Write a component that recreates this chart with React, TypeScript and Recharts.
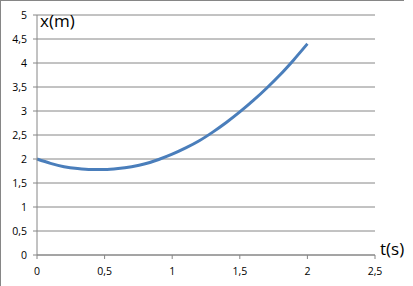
import { CartesianGrid, Line, LineChart, XAxis, YAxis } from 'recharts'

// position x (m) read at each time t (s)
const times = [0, 0.1, 0.2, 0.3, 0.4, 0.5, 0.6, 0.7, 0.8, 0.9, 1, 1.1, 1.2, 1.3, 1.4, 1.5, 1.6, 1.7, 1.8, 1.9, 2]
const positions = [2, 1.91, 1.84, 1.8, 1.78, 1.78, 1.8, 1.84, 1.9, 1.99, 2.1, 2.23, 2.38, 2.56, 2.76, 2.98, 3.22, 3.48, 3.76, 4.07, 4.4]
const xTicks = [0, 0.5, 1, 1.5, 2, 2.5]
const yTicks = [0, 0.5, 1, 1.5, 2, 2.5, 3, 3.5, 4, 4.5, 5]

const data = times.map((t, i) => ({ t, x: positions[i] }))

const gray = '#868686'
const fmt = (v: number) => String(v).replace('.', ',')
const tickStyle = { fill: '#000', fontSize: 10.5, fontFamily: 'Open Sans' }

export default function App() {
  return (
    <div style={{ position: 'absolute', left: 0, top: 0, width: 413, height: 286, background: '#fff', overflow: 'hidden' }}>
      <div style={{ position: 'absolute', left: 0, top: 0, width: 404, height: 1, background: gray }} />
      <div style={{ position: 'absolute', left: 0, top: 0, width: 1, height: 286, background: gray }} />
      <LineChart width={413} height={286} data={data} margin={{ top: 15, right: 38, bottom: 0, left: 0 }}>
        <CartesianGrid horizontal vertical={false} stroke={gray} strokeWidth={1} />
        <XAxis
          dataKey="t"
          type="number"
          domain={[0, 2.5]}
          ticks={xTicks}
          tickFormatter={fmt}
          height={31}
          stroke={gray}
          tickSize={4}
          tickMargin={9}
          tick={tickStyle}
        />
        <YAxis
          type="number"
          domain={[0, 5]}
          ticks={yTicks}
          tickFormatter={fmt}
          width={37}
          stroke={gray}
          tickSize={4}
          tickMargin={6}
          tick={tickStyle}
        />
        <Line type="monotone" dataKey="x" stroke="#4A7EBB" strokeWidth={3} dot={false} isAnimationActive={false} />
      </LineChart>
      <div style={{ position: 'absolute', left: 40, top: 12, fontSize: 17, fontFamily: 'Open Sans', color: '#000', lineHeight: 1 }}>x(m)</div>
      <div style={{ position: 'absolute', left: 380, top: 240, fontSize: 17, fontFamily: 'Open Sans', color: '#000', lineHeight: 1 }}>t(s)</div>
    </div>
  )
}
